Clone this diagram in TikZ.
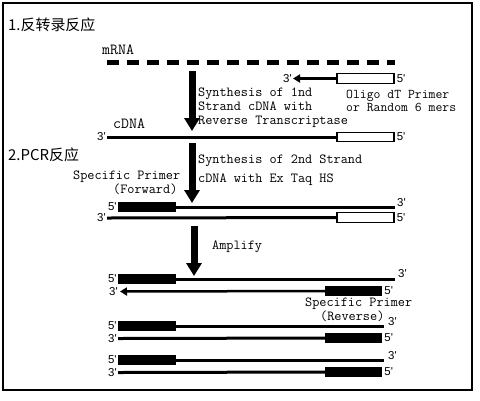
\documentclass[tikz,border=0pt]{standalone}
\usepackage{fontspec}
\newfontfamily\cjk{Noto Sans CJK SC}
\newfontfamily\endfont{Liberation Sans}
\usetikzlibrary{arrows.meta, positioning}
\newcommand{\pr}[1]{#1\textquotesingle}

\begin{document}
\begin{tikzpicture}[x=1bp, y=-1bp, font=\ttfamily\fontsize{13.9}{14}\selectfont,
    strand/.style={line width=3bp},
    mrna/.style={line width=5bp, dash pattern=on 12bp off 8bp},
    openbox/.style={draw, line width=1.3bp, fill=white, minimum width=57bp, minimum height=9.5bp, inner sep=0pt},
    fillbox/.style={fill=black, minimum width=58bp, minimum height=10bp, inner sep=0pt},
    bigarrow/.style={line width=7bp, -{Triangle[width=15bp, length=13bp]}},
    primerarrow/.style={line width=2.5bp, -{Triangle[width=8bp, length=7bp]}},
    endlab/.style={font=\endfont\fontsize{11.5}{12}\selectfont, inner sep=1bp},
    heading/.style={font=\cjk\fontsize{15}{16}\selectfont, anchor=west, inner sep=0pt},
    rnalab/.style={font=\ttfamily\fontsize{15.5}{16}\selectfont, anchor=west, inner sep=0pt},
    note/.style={anchor=west, align=left, inner sep=0pt}
]
    \useasboundingbox (0,0) rectangle (480,400);
    \draw[line width=1.6bp] (3,3) rectangle (472,390);

    % 1. reverse transcription
    \node[heading] (h1) at (8,25) {1.反转录反应};
    \node[rnalab] (mrnalab) at (102,50) {mRNA};
    \coordinate (m0) at (107,62);
    \coordinate (m1) at (395,62);
    \draw[mrna] (m0) -- (m1);

    \node[openbox] (op1) at (365.5,78.5) {};
    \coordinate (op1tip) at (293,78.5);
    \draw[primerarrow] (op1.west) -- (op1tip);
    \node[endlab, left=0bp of op1tip] {\pr3};
    \node[endlab, right=1bp of op1] {\pr5};
    \node[note, font=\ttfamily\fontsize{13.4}{13}\selectfont] (oligo) at (346,100.5) {Oligo dT Primer\\or Random 6 mers};

    \coordinate (a1s) at (192,71);
    \coordinate (a1e) at (192,131);
    \draw[bigarrow] (a1s) -- (a1e);
    \node[note] (syn1) at (198,108) {Synthesis of 1nd\\Strand cDNA with\\Reverse Transcriptase};

    \node[rnalab] (cdnalab) at (113,124) {cDNA};
    \node[openbox] (op2) at (365.5,137) {};
    \coordinate (c0) at (107,137);
    \draw[strand] (c0) -- (op2.west);
    \node[endlab, left=0bp of c0] {\pr3};
    \node[endlab, right=1bp of op2] {\pr5};

    % 2. PCR
    \node[heading] (h2) at (8,155) {2.PCR反应};
    \coordinate (a2s) at (192,143);
    \coordinate (a2e) at (192,203);
    \draw[bigarrow] (a2s) -- (a2e);
    \node[note, font=\ttfamily\fontsize{13.9}{19}\selectfont] (syn2) at (198,170.5) {Synthesis of 2nd Strand\\cDNA with Ex Taq HS};
    \node[note] (fwdlab) at (73,183) {Specific Primer\\\hspace*{40bp}(Forward)};

    \node[fillbox] (fp1) at (147,207) {};
    \coordinate (f1e) at (395,207);
    \draw[strand] (fp1.east) -- (f1e);
    \node[endlab, left=0bp of fp1] {\pr5};
    \node[endlab, right=1bp of f1e, yshift=4bp] {\pr3};
    \node[openbox] (op3) at (365.5,217.5) {};
    \coordinate (f2s) at (107,218);
    \draw[strand] (f2s) -- (op3.west);
    \node[endlab, left=0bp of f2s] {\pr3};
    \node[endlab, right=1bp of op3] {\pr5};

    \coordinate (a3s) at (194,226);
    \coordinate (a3e) at (194,276);
    \draw[bigarrow] (a3s) -- (a3e);
    \node[note] (amp) at (212,247) {Amplify};

    % amplified products
    \node[fillbox] (fp2) at (147,279) {};
    \coordinate (f3e) at (395,279);
    \draw[strand] (fp2.east) -- (f3e);
    \node[endlab, left=0bp of fp2] {\pr5};
    \node[endlab, right=2bp of f3e, yshift=5bp] {\pr3};
    \node[fillbox, minimum width=57bp] (rp1) at (353.5,291) {};
    \coordinate (rtip) at (120,291.5);
    \draw[primerarrow] (rp1.west) -- (rtip);
    \node[endlab, left=1bp of rtip] {\pr3};
    \node[endlab, right=1bp of rp1] {\pr5};
    \node[note] (revlab) at (305,310) {Specific Primer\\\hspace*{15bp}(Reverse)};

    \node[fillbox] (fp3) at (147,326) {};
    \coordinate (f4e) at (384,326);
    \draw[strand] (fp3.east) -- (f4e);
    \node[endlab, left=0bp of fp3] {\pr5};
    \node[endlab, right=3bp of f4e, yshift=4bp] {\pr3};
    \node[fillbox, minimum width=57bp] (rp2) at (353.5,338) {};
    \coordinate (r2s) at (118,338.5);
    \draw[strand] (r2s) -- (rp2.west);
    \node[endlab, left=0bp of r2s] {\pr3};
    \node[endlab, right=1bp of rp2] {\pr5};

    \node[fillbox] (fp4) at (147,360) {};
    \coordinate (f5e) at (384,360);
    \draw[strand] (fp4.east) -- (f5e);
    \node[endlab, left=0bp of fp4] {\pr5};
    \node[endlab, right=3bp of f5e, yshift=4bp] {\pr3};
    \node[fillbox, minimum width=57bp] (rp3) at (353.5,372) {};
    \coordinate (r3s) at (118,372.5);
    \draw[strand] (r3s) -- (rp3.west);
    \node[endlab, left=0bp of r3s] {\pr3};
    \node[endlab, right=1bp of rp3] {\pr5};
\end{tikzpicture}
\end{document}
